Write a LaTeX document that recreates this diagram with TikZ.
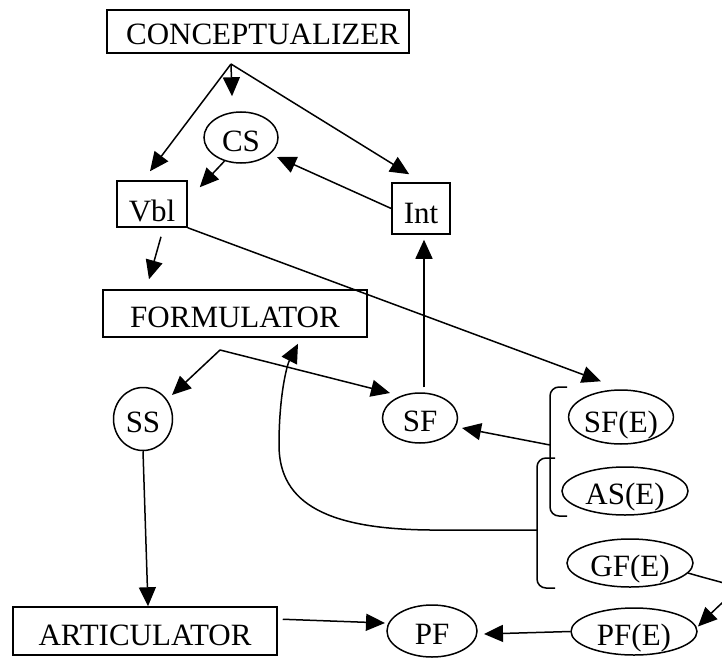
\documentclass[tikz,border=0pt]{standalone}
\usepackage{fontspec}
\setmainfont{Liberation Serif}
\usetikzlibrary{shapes.geometric,arrows.meta,calc}
\begin{document}
\begin{tikzpicture}[x=1pt,y=-1pt,line width=1.5pt,
  lbl/.style={inner sep=0pt,font=\fontsize{31}{36}\selectfont,text height=27pt,text depth=0pt},
  box/.style={lbl,draw,rectangle},
  oval/.style={lbl,draw,ellipse},
  arr/.style={-{Triangle[length=19pt 0,width=17pt 0]}},
  brk/.style={rounded corners=9pt}]
\useasboundingbox (0,0) rectangle (722,658);
\clip (0,0) rectangle (722,658);
% nodes
\node[box,minimum width=302pt,minimum height=43pt] (concept) at (258,31.5) {\hspace*{10pt}CONCEPTUALIZER};
\node[box,minimum width=70pt,minimum height=46pt,text height=35pt] (vbl) at (152,204) {Vbl};
\node[box,minimum width=58pt,minimum height=51pt,text height=29pt] (int) at (421,208.5) {Int};
\node[oval,minimum width=74pt,minimum height=51pt] (cs) at (241,137.5) {CS};
\node[box,minimum width=264pt,minimum height=47pt] (form) at (235,313.5) {FORMULATOR};
\node[oval,minimum width=59pt,minimum height=63pt] (ss) at (143,419) {SS};
\node[oval,minimum width=75pt,minimum height=50pt] (sf) at (420,418) {SF};
\node[oval,minimum width=101pt,minimum height=54pt,text height=31pt] (sfe) at (621,417) {SF(E)};
\node[oval,minimum width=126pt,minimum height=48pt] (ase) at (625,491) {AS(E)};
\node[oval,minimum width=126pt,minimum height=48pt] (gfe) at (630,563) {GF(E)};
\node[oval,minimum width=126pt,minimum height=47pt] (pfe) at (634,631.5) {PF(E)};
\node[oval,minimum width=90pt,minimum height=52pt] (pf) at (432,631) {PF};
\node[box,minimum width=264pt,minimum height=48pt,text height=29pt] (artic) at (145,631) {ARTICULATOR};
% free points
\coordinate (cfork) at (231,64);
\coordinate (ffork) at (220,350);
\coordinate (b1mid) at (550,445);
\coordinate (b2mid) at (537,530);
% brackets
\draw[brk] (567,387) -- (550,387) -- (550,516) -- (567,516);
\draw[brk] (555,458) -- (537,458) -- (537,588) -- (555,588);
% connectors
\draw[arr] (cfork) -- ($(vbl.north)+(-2,-9)$);
\draw[arr] (cfork) -- ($(cs.north)+(-9,-15)$);
\draw[arr] (cfork) -- ($(int.north west)+(18,-8)$);
\draw[arr] (cs.235) -- ($(vbl.north east)+(12,7)$);
\draw[arr] (int.west) -- ($(cs.center)+(36,19.5)$);
\draw[arr] ($(sf.north)+(4,-5)$) -- ($(int.south)+(3,5)$);
\draw[arr] ($(vbl.south)+(9,9)$) -- ($(form.north)+(-86,-10)$);
\draw[arr] (vbl.south east) -- ($(sfe.north)+(-20,-8)$);
\draw[arr] (ffork) -- ($(ss.center)+(29,-24)$);
\draw[arr] (ffork) -- ($(sf.center)+(-30,-25)$);
\draw[arr] (b1mid) -- ($(sf.center)+(42,10)$);
\draw[arr] (ss.south) -- ($(artic.north)+(3,0)$);
\draw[arr] ($(artic.north east)+(5,13)$) -- ($(pf.center)+(-47,-8)$);
\draw[arr] (pfe.west) -- ($(pf.center)+(52,3)$);
\draw[arr] ($(gfe.center)+(58,10)$) .. controls (749,591) and (743,581.5) .. ($(pfe.center)+(64,-5)$);
\draw[arr] (b2mid) -- (430,530) .. controls (330,529) and (279,505) .. (279,445)
  .. controls (279,395) and (287,365) .. ($(form.south)+(63,6)$);
\end{tikzpicture}
\end{document}
